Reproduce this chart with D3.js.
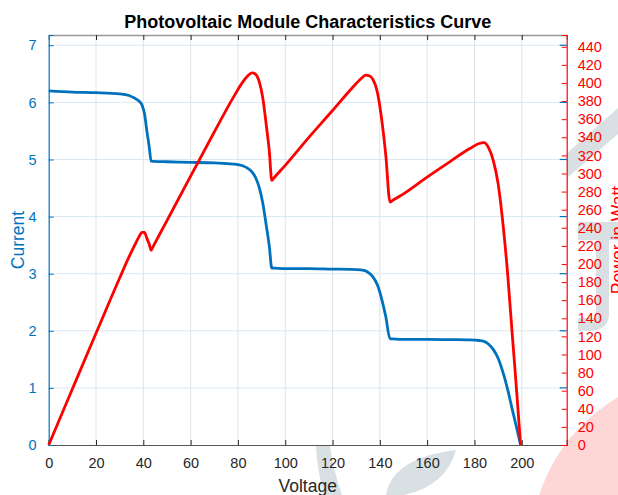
<!DOCTYPE html>
<html>
<head>
<meta charset="utf-8">
<script src="https://cdn.jsdelivr.net/npm/d3@7"></script>
<style>
  body { margin: 0; background: #fff; }
  text { font-family: "Liberation Sans", Arial, Helvetica, sans-serif; }
</style>
</head>
<body>
<div id="chart"></div>
<script>
// values
var voltage = [0, 10, 20, 30, 34, 36, 38, 39.5, 40.5, 41.5, 42.5, 43.3, 44.3,
  50, 60, 70, 78, 82, 84, 86, 87.5, 89, 90.5, 92, 93.3, 94.3, 95.3,
  100, 110, 120, 128, 132, 134, 135.5, 137, 139, 141, 142.5, 144.3, 145.3,
  150, 160, 170, 178, 182, 184, 186, 188, 190, 192, 194, 196, 197.5, 198.5, 199.5];
var current = [6.20, 6.18, 6.17, 6.15, 6.12, 6.08, 6.03, 5.95, 5.80, 5.50, 5.22, 4.97, 4.968,
  4.96, 4.95, 4.94, 4.92, 4.89, 4.85, 4.78, 4.68, 4.51, 4.24, 3.84, 3.47, 3.10, 3.099,
  3.09, 3.09, 3.08, 3.075, 3.065, 3.05, 3.01, 2.95, 2.80, 2.52, 2.25, 1.86, 1.858,
  1.85, 1.85, 1.845, 1.84, 1.83, 1.815, 1.765, 1.67, 1.52, 1.28, 0.98, 0.62, 0.36, 0.18, 0];
var power = [0, 61.8, 123.4, 184.5, 208.1, 218.9, 229.1, 235.0, 234.9, 228.3, 221.9, 215.2, 220.1,
  248.0, 297.0, 345.8, 383.8, 401.0, 407.4, 411.1, 409.5, 401.4, 383.7, 353.3, 323.8, 292.3, 295.3,
  309.0, 339.9, 369.6, 393.6, 404.6, 408.7, 407.9, 404.2, 389.2, 355.3, 320.6, 268.4, 270.0,
  277.5, 296.0, 313.7, 327.5, 333.1, 334.0, 328.3, 314.0, 288.8, 245.8, 190.1, 121.5, 71.1, 35.7, 0];

var xTicks = d3.range(0, 201, 20);
var currentTicks = d3.range(0, 8, 1);
var powerTicks = d3.range(0, 441, 20);

var width = 618,
  height = 495,
  plotLeft = 48.7,
  plotRight = 566.7,
  plotTop = 35,
  plotBottom = 445;

var blue = "#0072bd",
  red = "#ff0000",
  axisGrey = "#262626";

var svg = d3.select("#chart")
  .append("svg")
  .attr("width", width)
  .attr("height", height);

// watermark behind the figure
var wm = svg.append("g").attr("class", "watermark");
wm.append("circle")
  .attr("cx", 705).attr("cy", 548).attr("r", 174)
  .attr("fill", "#ffd6d6");
wm.append("path")
  .attr("d", "M548,170 L618,108 L618,134 L560,184 Z")
  .attr("fill", "#d9e0e3");
wm.append("path")
  .attr("d", "M578,222 L618,222 L618,240 L609,240 L609,316 Q607,330 590,331 L578,331 L578,318 L596,318 L596,240 L578,240 Z")
  .attr("fill", "#d9e0e3");
wm.append("path")
  .attr("d", "M316,446 L330,446 Q333,470 342,495 L324,495 Q317,470 316,446 Z")
  .attr("fill", "#d9e0e3");
wm.append("path")
  .attr("d", "M386,495 Q392,458 456,450 Q446,486 404,495 Z")
  .attr("fill", "#d9e0e3");

var x = d3.scaleLinear().domain([0, 219]).range([plotLeft, plotRight]);
var yCur = d3.scaleLinear().domain([0, 7.18]).range([plotBottom, plotTop]);
var yPow = d3.scaleLinear().domain([0, 453]).range([plotBottom, plotTop]);

// plot background
svg.append("rect")
  .attr("x", plotLeft).attr("y", plotTop)
  .attr("width", plotRight - plotLeft).attr("height", plotBottom - plotTop)
  .attr("fill", "#fff");

// grid
svg.append("g")
  .selectAll("line")
  .data(xTicks.slice(1))
  .enter()
  .append("line")
  .attr("x1", function (d) { return x(d); })
  .attr("x2", function (d) { return x(d); })
  .attr("y1", plotTop).attr("y2", plotBottom)
  .attr("stroke", "#dfe2e6").attr("stroke-width", 1);

svg.append("g")
  .selectAll("line")
  .data(currentTicks.slice(1))
  .enter()
  .append("line")
  .attr("x1", plotLeft).attr("x2", plotRight)
  .attr("y1", function (d) { return yCur(d); })
  .attr("y2", function (d) { return yCur(d); })
  .attr("stroke", "#dbe8f2").attr("stroke-width", 1);

// axes
var xAxis = d3.axisBottom(x).tickValues(xTicks).tickSize(-5).tickPadding(13);
var gx = svg.append("g")
  .attr("transform", "translate(0," + plotBottom + ")")
  .call(xAxis);
gx.select(".domain").attr("stroke", "#555").attr("stroke-width", 1.2);
gx.selectAll(".tick line").attr("stroke", axisGrey);
gx.selectAll("text").attr("fill", axisGrey).style("font-size", "14.5px");

var xTop = d3.axisTop(x).tickValues(xTicks.slice(1)).tickSize(-5).tickFormat("");
var gxt = svg.append("g")
  .attr("transform", "translate(0," + plotTop + ")")
  .call(xTop);
gxt.select(".domain").attr("stroke", "#999").attr("stroke-width", 1.5);
gxt.selectAll(".tick line").attr("stroke", axisGrey);

var yLeft = d3.axisLeft(yCur).tickValues(currentTicks).tickSize(-5).tickPadding(12);
var gyl = svg.append("g")
  .attr("transform", "translate(" + plotLeft + ",0)")
  .call(yLeft);
gyl.select(".domain").attr("stroke", blue).attr("stroke-width", 1.2);
gyl.selectAll(".tick line").attr("stroke", blue);
gyl.selectAll("text").attr("fill", blue).style("font-size", "14.5px");

var yRight = d3.axisRight(yPow).tickValues(powerTicks).tickSize(-5).tickPadding(11);
var gyr = svg.append("g")
  .attr("transform", "translate(" + plotRight + ",0)")
  .call(yRight);
gyr.select(".domain").attr("stroke", red).attr("stroke-width", 1.2);
gyr.selectAll(".tick line").attr("stroke", red);
gyr.selectAll("text").attr("fill", red).style("font-size", "14.5px");

// mirrored current ticks on the right side
svg.append("g")
  .selectAll("line")
  .data(currentTicks.slice(1))
  .enter()
  .append("line")
  .attr("x1", plotRight - 7).attr("x2", plotRight)
  .attr("y1", function (d) { return yCur(d); })
  .attr("y2", function (d) { return yCur(d); })
  .attr("stroke", blue).attr("stroke-width", 1.2);

// curves
var ivLine = d3.line()
  .x(function (d, i) { return x(voltage[i]); })
  .y(function (d) { return yCur(d); })
  .curve(d3.curveMonotoneX);

var pvLine = d3.line()
  .x(function (d, i) { return x(voltage[i]); })
  .y(function (d) { return yPow(d); })
  .curve(d3.curveMonotoneX);

svg.append("path")
  .datum(current)
  .attr("d", ivLine)
  .attr("fill", "none")
  .attr("stroke", blue)
  .attr("stroke-width", 2.8);

svg.append("path")
  .datum(power)
  .attr("d", pvLine)
  .attr("fill", "none")
  .attr("stroke", red)
  .attr("stroke-width", 2.8)
  .attr("stroke-linejoin", "round");

// titles
svg.append("text")
  .attr("x", (plotLeft + plotRight) / 2)
  .attr("y", 28)
  .attr("text-anchor", "middle")
  .style("font-size", "18px")
  .style("font-weight", "bold")
  .attr("fill", "#000")
  .text("Photovoltaic Module Characteristics Curve");

svg.append("text")
  .attr("x", (plotLeft + plotRight) / 2)
  .attr("y", 492)
  .attr("text-anchor", "middle")
  .style("font-size", "17.5px")
  .attr("fill", axisGrey)
  .text("Voltage");

svg.append("text")
  .attr("transform", "translate(23.5,240) rotate(-90)")
  .attr("text-anchor", "middle")
  .style("font-size", "17.5px")
  .attr("fill", blue)
  .text("Current");

svg.append("text")
  .attr("transform", "translate(623.5,240) rotate(-90)")
  .attr("text-anchor", "middle")
  .style("font-size", "17.5px")
  .attr("fill", red)
  .text("Power in Watt");
</script>
</body>
</html>
